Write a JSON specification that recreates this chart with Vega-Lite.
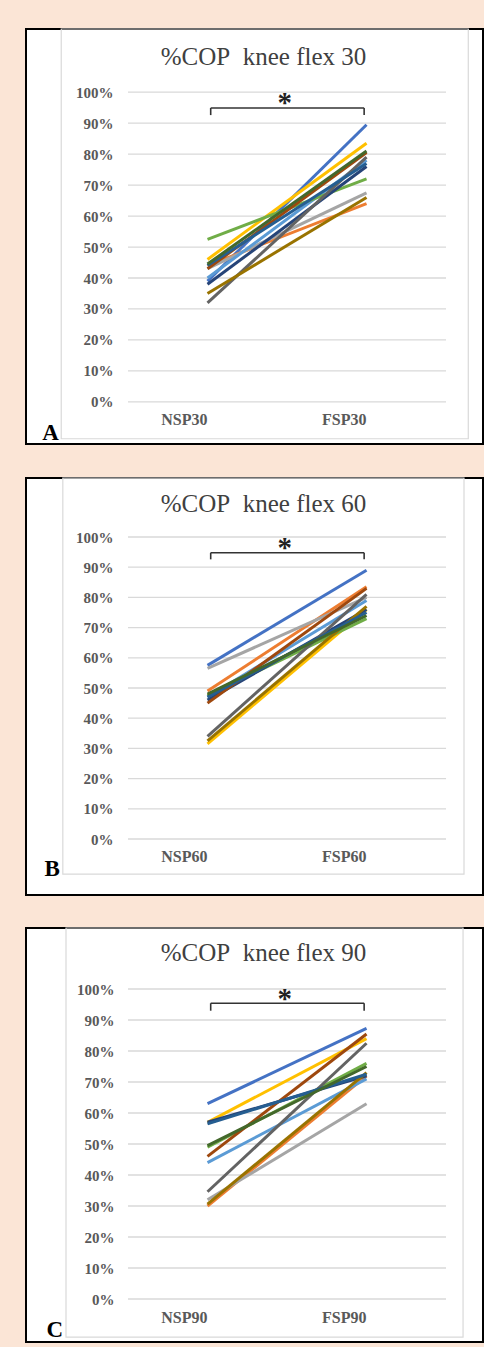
{
  "$schema": "https://vega.github.io/schema/vega-lite/v6.json",
  "background": "#FBE5D6",
  "padding": {"left": 25, "top": 27, "right": 2, "bottom": 14},
  "spacing": 30,
  "config": {
    "view": {"stroke": "#000000", "strokeWidth": 2, "fill": "#ffffff"},
    "font": "Liberation Serif"
  },
  "datasets": {
    "cop": [
      {"panel": "A", "subject": 1, "cond": "NSP", "v": 39}, {"panel": "A", "subject": 1, "cond": "FSP", "v": 89.5},
      {"panel": "A", "subject": 2, "cond": "NSP", "v": 44}, {"panel": "A", "subject": 2, "cond": "FSP", "v": 64},
      {"panel": "A", "subject": 3, "cond": "NSP", "v": 43}, {"panel": "A", "subject": 3, "cond": "FSP", "v": 67.5},
      {"panel": "A", "subject": 4, "cond": "NSP", "v": 46}, {"panel": "A", "subject": 4, "cond": "FSP", "v": 83.5},
      {"panel": "A", "subject": 5, "cond": "NSP", "v": 40}, {"panel": "A", "subject": 5, "cond": "FSP", "v": 78},
      {"panel": "A", "subject": 6, "cond": "NSP", "v": 52.5}, {"panel": "A", "subject": 6, "cond": "FSP", "v": 72},
      {"panel": "A", "subject": 7, "cond": "NSP", "v": 38}, {"panel": "A", "subject": 7, "cond": "FSP", "v": 76},
      {"panel": "A", "subject": 8, "cond": "NSP", "v": 43}, {"panel": "A", "subject": 8, "cond": "FSP", "v": 80.5},
      {"panel": "A", "subject": 9, "cond": "NSP", "v": 32}, {"panel": "A", "subject": 9, "cond": "FSP", "v": 79},
      {"panel": "A", "subject": 10, "cond": "NSP", "v": 35}, {"panel": "A", "subject": 10, "cond": "FSP", "v": 66},
      {"panel": "A", "subject": 11, "cond": "NSP", "v": 44}, {"panel": "A", "subject": 11, "cond": "FSP", "v": 77},
      {"panel": "A", "subject": 12, "cond": "NSP", "v": 44.5}, {"panel": "A", "subject": 12, "cond": "FSP", "v": 81},

      {"panel": "B", "subject": 1, "cond": "NSP", "v": 57.5}, {"panel": "B", "subject": 1, "cond": "FSP", "v": 89},
      {"panel": "B", "subject": 2, "cond": "NSP", "v": 49}, {"panel": "B", "subject": 2, "cond": "FSP", "v": 83.5},
      {"panel": "B", "subject": 3, "cond": "NSP", "v": 56.5}, {"panel": "B", "subject": 3, "cond": "FSP", "v": 80},
      {"panel": "B", "subject": 4, "cond": "NSP", "v": 31.5}, {"panel": "B", "subject": 4, "cond": "FSP", "v": 76},
      {"panel": "B", "subject": 5, "cond": "NSP", "v": 47}, {"panel": "B", "subject": 5, "cond": "FSP", "v": 79},
      {"panel": "B", "subject": 6, "cond": "NSP", "v": 47.5}, {"panel": "B", "subject": 6, "cond": "FSP", "v": 73},
      {"panel": "B", "subject": 7, "cond": "NSP", "v": 46}, {"panel": "B", "subject": 7, "cond": "FSP", "v": 76},
      {"panel": "B", "subject": 8, "cond": "NSP", "v": 45}, {"panel": "B", "subject": 8, "cond": "FSP", "v": 83},
      {"panel": "B", "subject": 9, "cond": "NSP", "v": 34}, {"panel": "B", "subject": 9, "cond": "FSP", "v": 81},
      {"panel": "B", "subject": 10, "cond": "NSP", "v": 32.5}, {"panel": "B", "subject": 10, "cond": "FSP", "v": 77},
      {"panel": "B", "subject": 11, "cond": "NSP", "v": 47}, {"panel": "B", "subject": 11, "cond": "FSP", "v": 75},
      {"panel": "B", "subject": 12, "cond": "NSP", "v": 48}, {"panel": "B", "subject": 12, "cond": "FSP", "v": 74},

      {"panel": "C", "subject": 1, "cond": "NSP", "v": 63}, {"panel": "C", "subject": 1, "cond": "FSP", "v": 87.3},
      {"panel": "C", "subject": 2, "cond": "NSP", "v": 30}, {"panel": "C", "subject": 2, "cond": "FSP", "v": 72},
      {"panel": "C", "subject": 3, "cond": "NSP", "v": 32}, {"panel": "C", "subject": 3, "cond": "FSP", "v": 63},
      {"panel": "C", "subject": 4, "cond": "NSP", "v": 57}, {"panel": "C", "subject": 4, "cond": "FSP", "v": 84},
      {"panel": "C", "subject": 5, "cond": "NSP", "v": 44}, {"panel": "C", "subject": 5, "cond": "FSP", "v": 71},
      {"panel": "C", "subject": 6, "cond": "NSP", "v": 49}, {"panel": "C", "subject": 6, "cond": "FSP", "v": 76},
      {"panel": "C", "subject": 7, "cond": "NSP", "v": 57}, {"panel": "C", "subject": 7, "cond": "FSP", "v": 72},
      {"panel": "C", "subject": 8, "cond": "NSP", "v": 46}, {"panel": "C", "subject": 8, "cond": "FSP", "v": 85.5},
      {"panel": "C", "subject": 9, "cond": "NSP", "v": 34.6}, {"panel": "C", "subject": 9, "cond": "FSP", "v": 82.5},
      {"panel": "C", "subject": 10, "cond": "NSP", "v": 30.6}, {"panel": "C", "subject": 10, "cond": "FSP", "v": 73},
      {"panel": "C", "subject": 11, "cond": "NSP", "v": 56.5}, {"panel": "C", "subject": 11, "cond": "FSP", "v": 72.5},
      {"panel": "C", "subject": 12, "cond": "NSP", "v": 49.5}, {"panel": "C", "subject": 12, "cond": "FSP", "v": 75}
    ],
    "grid": [{"g": 0}, {"g": 10}, {"g": 20}, {"g": 30}, {"g": 40}, {"g": 50}, {"g": 60}, {"g": 70}, {"g": 80}, {"g": 90}, {"g": 100}],
    "one": [{}]
  },
  "vconcat": [
    {
      "width": 457, "height": 415,
      "title": {"text": "%COP\u00a0 knee flex 30", "font": "Liberation Serif", "fontSize": 25, "fontWeight": "normal", "color": "#404040", "offset": -62, "dx": 9, "baseline": "alphabetic"},
      "layer": [
        {
          "data": {"name": "one"},
          "mark": {"type": "rect", "fill": null, "stroke": "#d9d9d9", "strokeWidth": 1.2},
          "encoding": {
            "x": {"datum": "NSP", "type": "nominal", "bandPosition": -0.42},
            "x2": {"datum": "FSP", "bandPosition": 1.14},
            "y": {"datum": 120.4, "type": "quantitative"},
            "y2": {"datum": -11.9}
          }
        },
        {
          "data": {"name": "grid"},
          "mark": {"type": "rule", "color": "#d9d9d9", "strokeWidth": 1.3},
          "encoding": {
            "x": {"datum": "NSP", "type": "nominal", "bandPosition": 0},
            "x2": {"datum": "FSP", "bandPosition": 1},
            "y": {"field": "g", "type": "quantitative"}
          }
        },
        {
          "data": {"name": "cop"},
          "transform": [{"filter": "datum.panel == 'A'"}],
          "mark": {"type": "line", "strokeWidth": 3},
          "encoding": {
            "x": {"field": "cond", "type": "nominal", "sort": ["NSP", "FSP"], "bandPosition": 0.5,
              "scale": {"type": "band", "domain": ["NSP", "FSP"], "paddingInner": 0, "paddingOuter": 0.437, "align": 0.734},
              "axis": {"title": "A", "titleX": 15.7, "titleY": -4.7, "titleAlign": "left", "titleBaseline": "alphabetic", "titleFont": "Liberation Serif", "titleFontSize": 23, "titleFontWeight": "bold", "titleColor": "#000000",
                "labelExpr": "datum.value + '30'", "labelAngle": 0, "bandPosition": 0.5, "ticks": false, "tickSize": 0, "domain": false, "grid": false, "labelPadding": -19.3, "labelBaseline": "alphabetic", "labelFont": "Liberation Serif", "labelFontSize": 16, "labelFontWeight": "bold", "labelColor": "#595959"}},
            "y": {"field": "v", "type": "quantitative",
              "scale": {"domain": [-13.6, 120.4], "nice": false, "zero": false},
              "axis": {"title": null, "values": [0, 10, 20, 30, 40, 50, 60, 70, 80, 90, 100], "labelExpr": "datum.value + '%'", "ticks": false, "tickSize": 0, "domain": false, "grid": false, "labelPadding": -87, "labelAlign": "right", "labelFont": "Liberation Serif", "labelFontSize": 15, "labelFontWeight": "bold", "labelColor": "#595959"}},
            "color": {"field": "subject", "type": "nominal", "legend": null,
              "scale": {"domain": [1, 2, 3, 4, 5, 6, 7, 8, 9, 10, 11, 12], "range": ["#4472C4", "#ED7D31", "#A5A5A5", "#FFC000", "#5B9BD5", "#70AD47", "#264478", "#9E480E", "#636363", "#997300", "#255E91", "#43682B"]}}
          }
        },
        {
          "data": {"name": "one"},
          "mark": {"type": "rule", "color": "#333333", "strokeWidth": 1.6},
          "encoding": {
            "x": {"datum": "NSP", "type": "nominal", "bandPosition": 0.52},
            "x2": {"datum": "FSP", "bandPosition": 0.485},
            "y": {"datum": 94.9, "type": "quantitative"}
          }
        },
        {
          "data": {"name": "one"},
          "mark": {"type": "rule", "color": "#333333", "strokeWidth": 1.6},
          "encoding": {
            "x": {"datum": "NSP", "type": "nominal", "bandPosition": 0.52},
            "y": {"datum": 94.9, "type": "quantitative"},
            "y2": {"datum": 92.6}
          }
        },
        {
          "data": {"name": "one"},
          "mark": {"type": "rule", "color": "#333333", "strokeWidth": 1.6},
          "encoding": {
            "x": {"datum": "FSP", "type": "nominal", "bandPosition": 0.485},
            "y": {"datum": 94.9, "type": "quantitative"},
            "y2": {"datum": 92.6}
          }
        },
        {
          "data": {"name": "one"},
          "mark": {"type": "text", "text": "*", "font": "Liberation Serif", "fontSize": 29, "fontWeight": "bold", "color": "#222222", "align": "center", "baseline": "alphabetic"},
          "encoding": {
            "x": {"datum": "NSP", "type": "nominal", "bandPosition": 0.985},
            "y": {"datum": 93.6, "type": "quantitative"}
          }
        }
      ]
    },
    {
      "width": 457, "height": 417,
      "title": {"text": "%COP\u00a0 knee flex 60", "font": "Liberation Serif", "fontSize": 25, "fontWeight": "normal", "color": "#404040", "offset": -59, "dx": 9, "baseline": "alphabetic"},
      "layer": [
        {
          "data": {"name": "one"},
          "mark": {"type": "rect", "fill": null, "stroke": "#d9d9d9", "strokeWidth": 1.2},
          "encoding": {
            "x": {"datum": "NSP", "type": "nominal", "bandPosition": -0.41},
            "x2": {"datum": "FSP", "bandPosition": 1.113},
            "y": {"datum": 119.5, "type": "quantitative"},
            "y2": {"datum": -11.6}
          }
        },
        {
          "data": {"name": "grid"},
          "mark": {"type": "rule", "color": "#d9d9d9", "strokeWidth": 1.3},
          "encoding": {
            "x": {"datum": "NSP", "type": "nominal", "bandPosition": 0},
            "x2": {"datum": "FSP", "bandPosition": 1},
            "y": {"field": "g", "type": "quantitative"}
          }
        },
        {
          "data": {"name": "cop"},
          "transform": [{"filter": "datum.panel == 'B'"}],
          "mark": {"type": "line", "strokeWidth": 3},
          "encoding": {
            "x": {"field": "cond", "type": "nominal", "sort": ["NSP", "FSP"], "bandPosition": 0.5,
              "scale": {"type": "band", "domain": ["NSP", "FSP"], "paddingInner": 0, "paddingOuter": 0.437, "align": 0.734},
              "axis": {"title": "B", "titleX": 18, "titleY": -20, "titleAlign": "left", "titleBaseline": "alphabetic", "titleFont": "Liberation Serif", "titleFontSize": 23, "titleFontWeight": "bold", "titleColor": "#000000",
                "labelExpr": "datum.value + '60'", "labelAngle": 0, "bandPosition": 0.5, "ticks": false, "tickSize": 0, "domain": false, "grid": false, "labelPadding": -34, "labelBaseline": "alphabetic", "labelFont": "Liberation Serif", "labelFontSize": 16, "labelFontWeight": "bold", "labelColor": "#595959"}},
            "y": {"field": "v", "type": "quantitative",
              "scale": {"domain": [-18.54, 119.54], "nice": false, "zero": false},
              "axis": {"title": null, "values": [0, 10, 20, 30, 40, 50, 60, 70, 80, 90, 100], "labelExpr": "datum.value + '%'", "ticks": false, "tickSize": 0, "domain": false, "grid": false, "labelPadding": -87, "labelAlign": "right", "labelFont": "Liberation Serif", "labelFontSize": 15, "labelFontWeight": "bold", "labelColor": "#595959"}},
            "color": {"field": "subject", "type": "nominal", "legend": null,
              "scale": {"domain": [1, 2, 3, 4, 5, 6, 7, 8, 9, 10, 11, 12], "range": ["#4472C4", "#ED7D31", "#A5A5A5", "#FFC000", "#5B9BD5", "#70AD47", "#264478", "#9E480E", "#636363", "#997300", "#255E91", "#43682B"]}}
          }
        },
        {
          "data": {"name": "one"},
          "mark": {"type": "rule", "color": "#333333", "strokeWidth": 1.6},
          "encoding": {
            "x": {"datum": "NSP", "type": "nominal", "bandPosition": 0.52},
            "x2": {"datum": "FSP", "bandPosition": 0.485},
            "y": {"datum": 94.8, "type": "quantitative"}
          }
        },
        {
          "data": {"name": "one"},
          "mark": {"type": "rule", "color": "#333333", "strokeWidth": 1.6},
          "encoding": {
            "x": {"datum": "NSP", "type": "nominal", "bandPosition": 0.52},
            "y": {"datum": 94.8, "type": "quantitative"},
            "y2": {"datum": 92.6}
          }
        },
        {
          "data": {"name": "one"},
          "mark": {"type": "rule", "color": "#333333", "strokeWidth": 1.6},
          "encoding": {
            "x": {"datum": "FSP", "type": "nominal", "bandPosition": 0.485},
            "y": {"datum": 94.8, "type": "quantitative"},
            "y2": {"datum": 92.6}
          }
        },
        {
          "data": {"name": "one"},
          "mark": {"type": "text", "text": "*", "font": "Liberation Serif", "fontSize": 29, "fontWeight": "bold", "color": "#222222", "align": "center", "baseline": "alphabetic"},
          "encoding": {
            "x": {"datum": "NSP", "type": "nominal", "bandPosition": 0.985},
            "y": {"datum": 93.5, "type": "quantitative"}
          }
        }
      ]
    },
    {
      "width": 457, "height": 414,
      "title": {"text": "%COP\u00a0 knee flex 90", "font": "Liberation Serif", "fontSize": 25, "fontWeight": "normal", "color": "#404040", "offset": -59, "dx": 9, "baseline": "alphabetic"},
      "layer": [
        {
          "data": {"name": "one"},
          "mark": {"type": "rect", "fill": null, "stroke": "#d9d9d9", "strokeWidth": 1.2},
          "encoding": {
            "x": {"datum": "NSP", "type": "nominal", "bandPosition": -0.39},
            "x2": {"datum": "FSP", "bandPosition": 1.107},
            "y": {"datum": 119.68, "type": "quantitative"},
            "y2": {"datum": -12.3}
          }
        },
        {
          "data": {"name": "grid"},
          "mark": {"type": "rule", "color": "#d9d9d9", "strokeWidth": 1.3},
          "encoding": {
            "x": {"datum": "NSP", "type": "nominal", "bandPosition": 0},
            "x2": {"datum": "FSP", "bandPosition": 1},
            "y": {"field": "g", "type": "quantitative"}
          }
        },
        {
          "data": {"name": "cop"},
          "transform": [{"filter": "datum.panel == 'C'"}],
          "mark": {"type": "line", "strokeWidth": 3},
          "encoding": {
            "x": {"field": "cond", "type": "nominal", "sort": ["NSP", "FSP"], "bandPosition": 0.5,
              "scale": {"type": "band", "domain": ["NSP", "FSP"], "paddingInner": 0, "paddingOuter": 0.437, "align": 0.734},
              "axis": {"title": "C", "titleX": 20, "titleY": -5.3, "titleAlign": "left", "titleBaseline": "alphabetic", "titleFont": "Liberation Serif", "titleFontSize": 23, "titleFontWeight": "bold", "titleColor": "#000000",
                "labelExpr": "datum.value + '90'", "labelAngle": 0, "bandPosition": 0.5, "ticks": false, "tickSize": 0, "domain": false, "grid": false, "labelPadding": -20, "labelBaseline": "alphabetic", "labelFont": "Liberation Serif", "labelFontSize": 16, "labelFontWeight": "bold", "labelColor": "#595959"}},
            "y": {"field": "v", "type": "quantitative",
              "scale": {"domain": [-13.87, 119.68], "nice": false, "zero": false},
              "axis": {"title": null, "values": [0, 10, 20, 30, 40, 50, 60, 70, 80, 90, 100], "labelExpr": "datum.value + '%'", "ticks": false, "tickSize": 0, "domain": false, "grid": false, "labelPadding": -88, "labelAlign": "right", "labelFont": "Liberation Serif", "labelFontSize": 15, "labelFontWeight": "bold", "labelColor": "#595959"}},
            "color": {"field": "subject", "type": "nominal", "legend": null,
              "scale": {"domain": [1, 2, 3, 4, 5, 6, 7, 8, 9, 10, 11, 12], "range": ["#4472C4", "#ED7D31", "#A5A5A5", "#FFC000", "#5B9BD5", "#70AD47", "#264478", "#9E480E", "#636363", "#997300", "#255E91", "#43682B"]}}
          }
        },
        {
          "data": {"name": "one"},
          "mark": {"type": "rule", "color": "#333333", "strokeWidth": 1.6},
          "encoding": {
            "x": {"datum": "NSP", "type": "nominal", "bandPosition": 0.52},
            "x2": {"datum": "FSP", "bandPosition": 0.485},
            "y": {"datum": 95.4, "type": "quantitative"}
          }
        },
        {
          "data": {"name": "one"},
          "mark": {"type": "rule", "color": "#333333", "strokeWidth": 1.6},
          "encoding": {
            "x": {"datum": "NSP", "type": "nominal", "bandPosition": 0.52},
            "y": {"datum": 95.4, "type": "quantitative"},
            "y2": {"datum": 93}
          }
        },
        {
          "data": {"name": "one"},
          "mark": {"type": "rule", "color": "#333333", "strokeWidth": 1.6},
          "encoding": {
            "x": {"datum": "FSP", "type": "nominal", "bandPosition": 0.485},
            "y": {"datum": 95.4, "type": "quantitative"},
            "y2": {"datum": 93}
          }
        },
        {
          "data": {"name": "one"},
          "mark": {"type": "text", "text": "*", "font": "Liberation Serif", "fontSize": 29, "fontWeight": "bold", "color": "#222222", "align": "center", "baseline": "alphabetic"},
          "encoding": {
            "x": {"datum": "NSP", "type": "nominal", "bandPosition": 0.985},
            "y": {"datum": 94, "type": "quantitative"}
          }
        }
      ]
    }
  ]
}
